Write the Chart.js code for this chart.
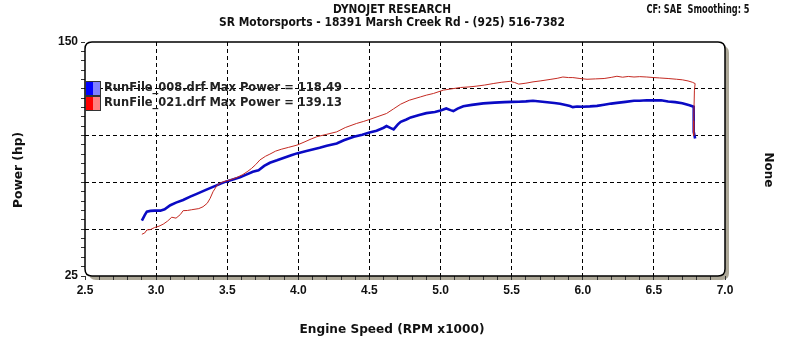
<!DOCTYPE html>
<html><head><meta charset="utf-8">
<script src="https://cdn.jsdelivr.net/npm/chart.js@4"></script>
<style>html,body{margin:0;padding:0;background:#fff;overflow:hidden}#wrap{width:791px;height:349px;position:relative}</style>
</head><body><div id="wrap"><canvas id="c" width="791" height="349"></canvas></div>
<script>
// ---- data ----
const rpm008 = [2.90,2.92,2.935,2.96,2.99,3.03,3.06,3.10,3.14,3.19,3.24,3.29,3.35,3.40,3.45,3.49,3.54,3.59,3.63,3.68,3.72,3.76,3.80,3.85,3.90,3.95,3.99,4.05,4.10,4.15,4.20,4.27,4.32,4.39,4.45,4.50,4.55,4.60,4.62,4.65,4.67,4.70,4.72,4.76,4.79,4.85,4.90,4.96,5.00,5.04,5.07,5.09,5.12,5.16,5.22,5.30,5.38,5.45,5.50,5.55,5.60,5.65,5.70,5.75,5.80,5.84,5.88,5.91,5.93,5.96,6.00,6.05,6.10,6.15,6.20,6.24,6.30,6.36,6.40,6.45,6.50,6.55,6.60,6.65,6.70,6.75,6.78,6.78,6.79];
const hp008  = [54.6,57.5,59.4,59.8,59.9,59.9,60.6,62.8,64.2,65.6,67.4,69.0,71.0,72.6,74.2,75.4,76.6,77.8,79.0,80.7,81.5,83.8,85.5,86.8,88.2,89.5,90.5,91.7,92.6,93.5,94.6,95.8,97.5,99.4,100.5,101.6,102.6,104.2,105.1,104.0,103.3,106.0,107.4,108.6,109.7,111.0,112.0,112.6,113.4,114.5,113.6,113.1,114.4,115.7,116.4,117.2,117.6,117.9,118.0,118.1,118.3,118.6,118.2,117.8,117.4,117.0,116.3,115.8,115.2,115.5,115.4,115.6,115.9,116.5,117.1,117.5,118.0,118.6,118.6,118.9,118.8,118.9,118.2,117.9,117.3,116.2,115.4,102.0,98.5];
const rpm021 = [2.90,2.92,2.935,2.96,2.99,3.02,3.05,3.08,3.11,3.14,3.17,3.19,3.22,3.25,3.30,3.33,3.36,3.38,3.40,3.43,3.46,3.49,3.53,3.57,3.61,3.64,3.67,3.70,3.73,3.77,3.80,3.84,3.88,3.93,3.99,4.04,4.09,4.13,4.20,4.27,4.33,4.41,4.46,4.50,4.56,4.62,4.67,4.72,4.78,4.86,4.90,4.95,5.02,5.08,5.14,5.20,5.25,5.31,5.37,5.43,5.49,5.52,5.55,5.60,5.65,5.70,5.77,5.82,5.86,5.90,5.93,5.98,6.03,6.09,6.15,6.20,6.24,6.28,6.32,6.36,6.40,6.45,6.50,6.54,6.60,6.66,6.70,6.74,6.77,6.79,6.785,6.78,6.78];
const hp021  = [47.3,48.0,49.6,49.8,50.9,51.6,52.7,54.3,56.4,55.9,57.8,59.9,60.0,60.4,61.0,62.0,63.9,66.5,70.0,73.6,75.0,75.7,76.6,77.7,79.2,80.7,82.4,84.5,87.0,89.0,90.1,91.7,92.7,93.7,94.9,96.5,98.2,99.4,100.7,102.0,104.3,106.5,107.6,108.6,110.2,111.8,114.3,116.8,118.9,120.7,121.6,122.5,124.3,125.0,125.7,126.0,126.4,127.0,127.8,128.5,129.0,128.4,127.5,128.0,128.7,129.2,130.0,130.6,131.3,131.0,131.0,130.5,130.1,130.3,130.5,131.1,131.7,131.2,131.6,131.3,131.5,131.3,131.0,130.8,130.5,130.1,129.8,129.2,128.5,127.8,124.3,108.0,100.0];
const xTickLabels = ['2.5','3.0','3.5','4.0','4.5','5.0','5.5','6.0','6.5','7.0'];
const yTickLabels = ['25','150'];
const legendLabels = ['RunFile_008.drf Max Power = 118.49','RunFile_021.drf Max Power = 139.13'];
const headerLines = ['DYNOJET RESEARCH','SR Motorsports - 18391 Marsh Creek Rd - (925) 516-7382'];
const cornerNote = 'CF: SAE  Smoothing: 5';
const xTitle = 'Engine Speed (RPM x1000)';
const yTitle = 'Power (hp)';
const y2Title = 'None';

// ---- helpers ----
const xVals = xTickLabels.map(Number);
const yVals = yTickLabels.map(Number);
const xMin = xVals[0], xMax = xVals[xVals.length-1];
const yMin = Math.min(...yVals), yMax = Math.max(...yVals);
const toPts = (xs, ys) => xs.map((x,i)=>({x:x, y:ys[i]}));
const near = (a,b) => Math.abs(a-b) < 1e-6;

function drawFit(ctx, text, cx, cy, w, font, color, rot){
  ctx.save();
  ctx.font = font; ctx.fillStyle = color; ctx.textAlign = 'center'; ctx.textBaseline = 'middle';
  ctx.translate(cx, cy); if (rot) ctx.rotate(rot);
  const m = ctx.measureText(text).width; ctx.scale(w/m, 1);
  ctx.fillText(text, 0, 0); ctx.restore();
}
function rr(ctx, x, y, w, h, r){
  ctx.beginPath();
  ctx.moveTo(x+r,y); ctx.lineTo(x+w-r,y); ctx.quadraticCurveTo(x+w,y,x+w,y+r);
  ctx.lineTo(x+w,y+h-r); ctx.quadraticCurveTo(x+w,y+h,x+w-r,y+h);
  ctx.lineTo(x+r,y+h); ctx.quadraticCurveTo(x,y+h,x,y+h-r);
  ctx.lineTo(x,y+r); ctx.quadraticCurveTo(x,y,x+r,y); ctx.closePath();
}

const framePlugin = {
  id:'frame',
  beforeDraw(chart){
    const {ctx, chartArea:a} = chart;
    ctx.save();
    ctx.fillStyle = '#fff'; ctx.fillRect(0,0,chart.width,chart.height);
    ctx.fillStyle = '#ada898';
    rr(ctx, a.left+4, a.top+4, a.right-a.left, a.bottom-a.top, 7); ctx.fill();
    ctx.fillStyle = '#fff';
    rr(ctx, a.left, a.top, a.right-a.left, a.bottom-a.top, 7); ctx.fill();
    ctx.restore();
  },
  afterDatasetsDraw(chart){
    const {ctx, chartArea:a} = chart;
    ctx.save();
    ctx.strokeStyle = '#000'; ctx.lineWidth = 1.5;
    rr(ctx, a.left, a.top, a.right-a.left, a.bottom-a.top, 7); ctx.stroke();
    // legend
    const cols = [['#0000ff','#8080ff'],['#ff0000','#ff8080']];
    legendLabels.forEach((t,i)=>{
      const y0 = 81 + i*15;
      ctx.fillStyle = cols[i][0]; ctx.fillRect(a.left, y0, 8, 14);
      ctx.fillStyle = cols[i][1]; ctx.fillRect(a.left+8, y0, 7, 14);
      ctx.strokeStyle = '#333'; ctx.lineWidth = 1;
      ctx.strokeRect(a.left+0.5, y0+0.5, 15, 14);
      drawFit(ctx, t, 104 + 238/2, y0 + 6.5, 238, 'bold 12px "DejaVu Sans", sans-serif', '#222');
    });
    ctx.restore();
  },
  afterDraw(chart){
    const ctx = chart.ctx;
    drawFit(ctx, headerLines[0], 392, 10, 118, 'bold 12px "DejaVu Sans", sans-serif', '#111');
    drawFit(ctx, headerLines[1], 392, 23, 346, 'bold 12px "DejaVu Sans", sans-serif', '#111');
    drawFit(ctx, cornerNote, 698, 10, 103, 'bold 12px "DejaVu Sans", sans-serif', '#111');
    drawFit(ctx, xTitle, 392, 330, 185, 'bold 13px "DejaVu Sans", sans-serif', '#111');
    drawFit(ctx, yTitle, 19, 170, 76, 'bold 13px "DejaVu Sans", sans-serif', '#111', -Math.PI/2);
    drawFit(ctx, y2Title, 768, 170, 35, 'bold 13px "DejaVu Sans", sans-serif', '#111', Math.PI/2);
  }
};

new Chart(document.getElementById('c'), {
  type: 'line',
  data: { datasets: [
    { label: legendLabels[1], data: toPts(rpm021, hp021), borderColor: '#c42a22', borderWidth: 1, pointRadius: 0, tension: 0, fill: false },
    { label: legendLabels[0], data: toPts(rpm008, hp008), borderColor: '#0a0ac4', borderWidth: 2.6, pointRadius: 0, tension: 0, fill: false }
  ]},
  options: {
    responsive: false, animation: false, devicePixelRatio: 1,
    layout: { padding: { left: 0, top: 42, right: 66, bottom: 0 } },
    plugins: { legend: { display: false }, title: { display: false }, tooltip: { enabled: false } },
    scales: {
      x: {
        type: 'linear', min: xMin, max: xMax,
        afterBuildTicks: s => { const t=[]; for (let i=Math.round(xMin*10); i<=Math.round(xMax*10); i++) t.push({value: i/10}); s.ticks = t; },
        afterFit: s => { s.height = 73; },
        ticks: { autoSkip: false, maxRotation: 0, minRotation: 0, padding: 3, color: '#111',
          font: { family: '"Liberation Sans", sans-serif', size: 12, weight: 'bold' },
          callback: v => { const l = xTickLabels.find(t => near(Number(t), v)); return l || ''; } },
        grid: { color: c => { const v = c.tick && c.tick.value; return (xVals.some(t=>near(t,v)) && !near(v,xMin) && !near(v,xMax)) ? '#000' : 'rgba(0,0,0,0)'; },
          tickColor: '#333', tickLength: 4, lineWidth: 1 },
        border: { display: false, dash: [4,3] }
      },
      y: {
        type: 'linear', min: yMin, max: yMax,
        afterBuildTicks: s => { const t=[]; for (let v=yMin; v<=yMax; v+=5) t.push({value: v}); s.ticks = t; },
        afterFit: s => { s.width = 85; },
        ticks: { autoSkip: false, padding: 3, color: '#111',
          font: { family: '"Liberation Sans", sans-serif', size: 12, weight: 'bold' },
          callback: v => { const l = yTickLabels.find(t => near(Number(t), v)); return l || ''; } },
        grid: { color: c => { const v = c.tick && c.tick.value; return (v % 25 === 0 && v !== yMin && v !== yMax) ? '#000' : 'rgba(0,0,0,0)'; },
          tickColor: '#333', tickLength: 4, lineWidth: 1 },
        border: { display: false, dash: [4,3] }
      }
    }
  },
  plugins: [framePlugin]
});
</script></body></html>
